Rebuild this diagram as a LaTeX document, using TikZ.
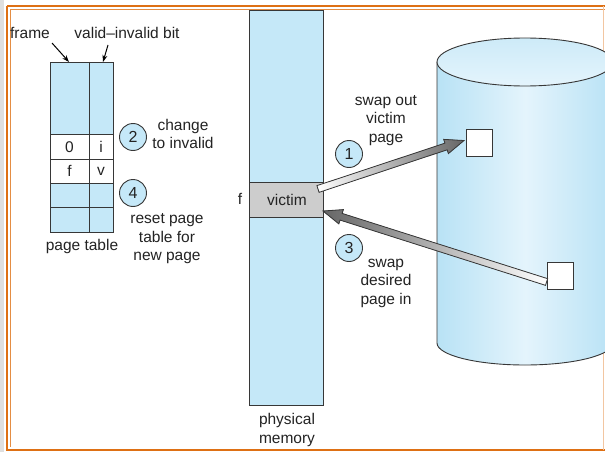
\documentclass[tikz,border=0pt]{standalone}
\usepackage{fontspec}
\setmainfont{Liberation Sans}
\usetikzlibrary{calc,arrows.meta}
\definecolor{cellblue}{RGB}{197,232,248}
\definecolor{cylblue}{RGB}{184,226,245}
\definecolor{cyllight}{RGB}{228,244,252}
\definecolor{linegray}{RGB}{55,55,55}
\definecolor{txt}{RGB}{35,35,35}
\definecolor{frameorange}{RGB}{222,112,20}
\definecolor{victimgray}{RGB}{205,205,205}
\tikzset{
  lbl/.style={text=txt,font=\fontsize{15.5}{18.5}\selectfont,align=center,inner sep=0pt},
  stepcircle/.style={circle,draw=linegray,line width=0.9pt,fill=cellblue,minimum size=27pt,inner sep=0pt,text=txt,font=\fontsize{16}{18.5}\selectfont},
  cell/.style={draw=linegray,line width=0.9pt},
  diskbox/.style={draw=linegray,line width=0.9pt,fill=white,minimum width=26pt,minimum height=27pt,inner sep=0pt},
  ptr/.style={-{Stealth[length=7pt,width=5pt]},line width=1pt,draw=black}
}
\begin{document}
\begin{tikzpicture}[x=1pt,y=-1pt]
\useasboundingbox (0,0) rectangle (605,452);
\clip (0,0) rectangle (605,452);
\fill[white] (0,0) rectangle (605,452);
\fill[gray!25] (0,0) rectangle (4,452);
% border
\draw[frameorange,line width=2pt] (7,6.5) -- (640,6.5);
\draw[frameorange,line width=2pt] (7,6.5) -- (7,449.5) -- (640,449.5);
\draw[frameorange!80,line width=0.7pt] (10,9.5) -- (640,9.5);
\draw[frameorange!80,line width=0.7pt] (10,9.5) -- (10,447);
\draw[frameorange!40,line width=0.6pt] (603,6.5) -- (603,449.5);

% cylinder (disk)
\shade[left color=cylblue,right color=cylblue,middle color=cyllight]
  (437,62) -- (437,343) arc[start angle=180,end angle=360,x radius=88pt,y radius=22pt] -- (613,62) -- cycle;
\draw[linegray,line width=0.9pt] (437,62) -- (437,343) arc[start angle=180,end angle=360,x radius=88pt,y radius=22pt] -- (613,62);
\shade[top color=cylblue!70,bottom color=cyllight,draw=linegray,line width=0.9pt] (525,62) ellipse[x radius=88pt,y radius=24pt];

% page table
\fill[cellblue] (50,62) rectangle (113,134);
\fill[white] (50,134) rectangle (113,183);
\fill[cellblue] (50,183) rectangle (113,232);
\draw[cell] (50,62) rectangle (113,232);
\draw[cell] (89,62) -- (89,232);
\foreach \yy in {134,159,183,207} \draw[cell] (50,\yy) -- (113,\yy);
\node[lbl] (c0) at (69.5,147) {0};
\node[lbl] (ci) at (101,147) {i};
\node[lbl] (cf) at (69.5,171) {f};
\node[lbl] (cv) at (101,171) {v};
\coordinate (frametop) at (69,62);
\coordinate (bittop) at (103,62);
\node[lbl] (framelbl) at (30,33) {frame};
\node[lbl] (bitlbl) at (127,33) {valid--invalid bit};
\draw[ptr] (52,43) -- (frametop);
\draw[ptr] (108,45) -- (bittop);
\node[lbl] (ptlbl) at (82,246) {page table};

\node[stepcircle] (s2) at (133,137) {2};
\node[lbl] (s2lbl) at (183,134) {change\\to invalid};
\node[stepcircle] (s4) at (133,193) {4};
\node[lbl] (s4lbl) at (167,239) {reset page\\table for\\new page};

% physical memory
\fill[cellblue] (249,10) rectangle (323,405);
\fill[victimgray] (249,182) rectangle (323,217);
\draw[cell] (249,10) rectangle (323,405);
\draw[cell] (249,182) -- (323,182);
\draw[cell] (249,217) -- (323,217);
\node[lbl] (victim) at (287,199.5) {victim};
\coordinate (victimout) at (318,189);
\coordinate (victimin) at (323,211);
\node[lbl] (flbl) at (240,199) {f};
\node[lbl] (pmlbl) at (287,430) {physical\\memory};

% disk pages
\node[diskbox] (pageout) at (479.5,142.5) {};
\node[diskbox] (pagein) at (560,276) {};

\node[stepcircle] (s1) at (349,154) {1};
\node[lbl] (s1lbl) at (386,120.5) {swap out\\victim\\page};
\node[stepcircle] (s3) at (349,248) {3};
\node[lbl] (s3lbl) at (386,283) {swap\\desired\\page in};

% fat arrow 1: victim -> disk
\coordinate (T1) at (victimout);
\coordinate (H1) at ($(pageout.west)+(-2,-2)$);
\coordinate (B1) at ($(H1)!19pt!(T1)$);
\filldraw[linegray,line width=0.8pt,left color=white,right color=gray!80!black]
  ($(T1)!3.5pt!90:(H1)$) -- ($(B1)!3.5pt!-90:(T1)$) -- ($(B1)!7.5pt!-90:(T1)$) -- (H1)
  -- ($(B1)!7.5pt!90:(T1)$) -- ($(B1)!3.5pt!90:(T1)$) -- ($(T1)!3.5pt!-90:(H1)$) -- cycle;

% fat arrow 3: disk -> victim
\coordinate (T3) at ($(pagein.west)+(0,6)$);
\coordinate (H3) at (victimin);
\coordinate (B3) at ($(H3)!19pt!(T3)$);
\filldraw[linegray,line width=0.8pt,right color=white,left color=gray!80!black]
  ($(T3)!3.5pt!90:(H3)$) -- ($(B3)!3.5pt!-90:(T3)$) -- ($(B3)!7.5pt!-90:(T3)$) -- (H3)
  -- ($(B3)!7.5pt!90:(T3)$) -- ($(B3)!3.5pt!90:(T3)$) -- ($(T3)!3.5pt!-90:(H3)$) -- cycle;
\end{tikzpicture}
\end{document}
